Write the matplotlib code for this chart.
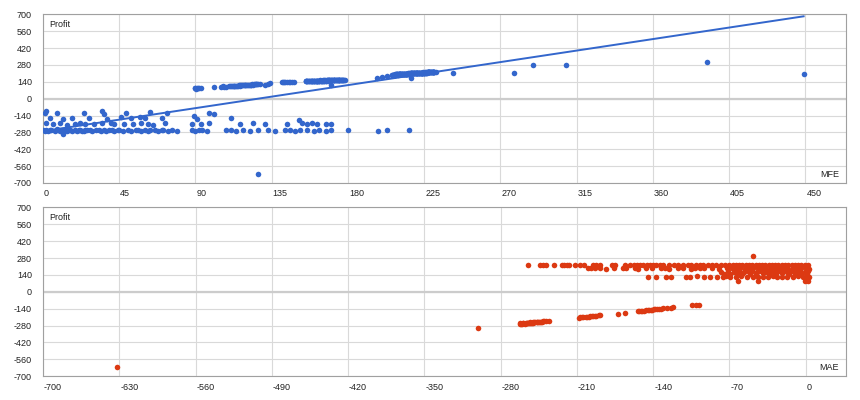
import numpy as np
import matplotlib
matplotlib.use("Agg")
import matplotlib.pyplot as plt
from matplotlib.transforms import ScaledTranslation

plt.rcParams['font.family'] = ['Liberation Sans', 'DejaVu Sans']

# ---------------- Top chart: MFE vs Profit ----------------
# losing trades
mfe_loss_low = [0,1,2,3,4,5,7,8,9,10,11,12,13,14,15,16,17,19,20,21,22,23,24,25,26,
                28,29,31,33,34,36,37,39,41,42,44,45,47,50,52,55,56,58,60,62,63,66,68,70,
                71,74,76,79,88,90,92,94,97,108,111,114,118,122,127,133,137,143,146,149,152,
                156,160,163,167,170,180,198,203,216]
profit_loss_low = [-262,-266,-258,-270,-264,-260,-268,-256,-263,-267,
                   -259,-265,-261,-272,-257,-264,-269,-260,-266,-262,
                   -258,-265,-270,-261,-263,-257,-268,-264,-260,-266,
                   -262,-271,-259,-264,-267,-258,-263,-269,-261,-265,
                   -257,-262,-268,-260,-266,-263,-259,-270,-264,-261,
                   -267,-258,-265,-262,-269,-260,-264,-266,-259,-263,
                   -268,-261,-265,-257,-262,-270,-264,-260,-266,-263,
                   -258,-267,-261,-265,-262,-264,-270,-263,-259]
mfe_loss_mid = [2,6,10,14,19,22,25,30,35,40,42,48,53,58,62,65,72,88,93,98,
                116,124,131,144,153,156,159,162,167,170]
profit_loss_mid = [-205,-212,-200,-215,-208,-203,-210,-214,-206,-198,
                   -211,-207,-213,-204,-209,-215,-202,-208,-212,-206,
                   -210,-203,-211,-210,-206,-211,-203,-209,-207,-212]
mfe_loss_up = [1,4,8,12,17,24,27,36,38,46,49,52,57,60,70,73,89,91,98,101,111,151]
profit_loss_up = [-122,-160,-118,-165,-158,-120,-162,-125,-168,-155,-119,
                  -163,-150,-160,-157,-121,-148,-165,-118,-125,-162,-178]
mfe_loss_out = [2,35,63,12,127]
profit_loss_out = [-105,-100,-108,-295,-627]

# winning trades
mfe_win_a = [89.5,90,90.5,91,91.5,92,93,101,105,106,107,108]
profit_win_a = [86,90,84,88,91,87,89,96,99,101,98,100]
mfe_win_b = [110,110.5,111,111.5,112,112.5,113,113.5,114,114.5,115,115.5,116,116.5,117,
             117.5,118,118.5,119,119.5,120,120.5,121,121.5,122,122.5,123,123.5,124,124.5,
             125,125.5,126,126.5,127,128]
profit_win_b = [102,104,103,106,105,107,106,108,107,109,108,110,109,111,110,
                112,111,113,112,114,113,115,114,116,115,117,116,118,117,119,
                118,120,119,121,120,122]
mfe_win_c = [131,133,134,141,141.5,142,143,144,145,146,147,148]
profit_win_c = [114,124,128,136,138,137,139,138,140,139,141,140]
mfe_win_e = [155,155.5,156,156.5,157,157.5,158,158.5,159,159.5,
             160,160.5,161,161.5,162,162.5,163,163.5,164,164.5,
             165,165.5,166,166.5,167,167.5,168,168.5,169,169.5,
             170,170.5,171,171.5,172,172.5,173,173.5,174,174.5,
             175,175.5,176,176.5,177,177.5,178,160,163,166,
             169,172,175,158,161,164,167,170,173,176,
             155.5,157,158.5,160,161.5,163,164.5,166,167.5,169,
             170.5,172,173.5,175,176.5,156,162,168,174,177]
profit_win_e = [144,146,145,147,146,148,147,145,148,147,
                149,148,147,149,150,148,149,151,150,149,
                151,150,152,151,150,152,151,153,152,151,
                153,152,151,153,152,154,153,152,154,153,
                152,154,153,155,154,153,155,146,148,150,
                151,152,153,145,147,149,150,151,152,154,
                145,146,147,148,148,149,150,150,151,152,
                152,153,153,154,154,144,147,150,152,153]
mfe_win_f = [170,197,200,203,217]
profit_win_f = [113,174,178,184,168]
mfe_win_g = [206,206.5,207,207.5,208,208.5,209,209.5,210,210.5,
             211,211.5,212,212.5,213,213.5,214,214.5,215,215.5,
             216,216.5,217,217.5,218,218.5,219,219.5,220,220.5,
             221,221.5,222,222.5,223,223.5,224,224.5,225,225.5,
             226,226.5,227,227.5,228,228.5,229,229.5,230,230.5,
             231,232,207,209,211,213,215,217,219,221,
             223,225,227,229,231,208,210,212,214,216,
             218,220,222,224,226,228,230,206,210,214,
             218,222,226,230,209,213,217,221,225,229,
             211,215,219,223,227,212,216,220,224,228,
             206.5,207.5,208.5,209.5,210.5,211.5,212.5,213.5,214.5,215.5,
             216.5,217.5,218.5,219.5,220.5,221.5,222.5,223.5,224.5,225.5,
             226.5,227.5,228.5,229.5,230.5,207,210,213,216,219,
             222,225,228,231,208,212,216,220,224,228]
profit_win_g = [198,200,199,201,200,202,201,199,203,202,
                203,205,204,206,205,207,206,208,207,209,
                208,210,209,211,210,212,211,213,212,214,
                213,215,214,216,215,217,216,218,217,219,
                218,220,219,221,220,222,221,223,222,224,
                222,221,197,201,203,205,207,210,211,213,
                214,216,219,220,221,200,203,204,206,208,
                211,212,214,215,217,219,221,196,201,205,
                209,212,216,222,202,206,208,212,217,221,
                204,208,212,215,218,205,209,213,216,220,
                199,200,201,202,203,203,205,205,206,207,
                208,209,210,211,211,213,213,215,215,216,
                217,218,219,220,221,198,202,205,208,211,
                213,216,219,222,200,204,208,212,215,219]
mfe_win_h = [242,278,289,309,392,449]
profit_win_h = [214,216,279,279,301,202]

# ---------------- Bottom chart: MAE vs Profit ----------------
mae_loss = [-632,-301,
            -262,-261,-260,-259,-258,-257,-256,-255,-254,-253,-252,-251,-250,-249,-248,
            -247,-246,-245,-244,-243,-242,-241,-240,-238,-236,
            -262,-259,-256,-253,-250,-247,
            -208,-207,-205,-204,-202,-201,-199,-198,-196,-195,-193,-192,-190,-189,
            -172,-166,
            -154,-153,-151,-150,-148,-147,-145,-144,-142,-141,-139,-138,-136,-135,-133,-131,
            -127,-124,-122,
            -104,-101,-98]
mae_loss_profit = [-627,-296,
                   -266,-264,-265,-262,-263,-261,-261,-259,-259,-257,-257,-255,-255,-253,-253,
                   -251,-251,-249,-249,-247,-247,-245,-245,-243,-241,
                   -261,-258,-256,-253,-251,-248,
                   -214,-212,-211,-209,-208,-206,-205,-203,-202,-200,-199,-197,-196,-194,
                   -180,-177,
                   -161,-160,-158,-157,-155,-154,-152,-151,-149,-148,-146,-145,-143,-142,-140,-138,
                   -134,-131,-129,
                   -110,-108,-106]
mae_win = [-255,-244,-241,-238,-231,-224,-222,-219,-217,-212,
           -207,-203,-195,-192,-189,-178,-175,-166,-161,-158,
           -155,-152,-149,-146,-143,-140,-137,-134,-131,-125,
           -121,-117,-113,-108,-105,-101,-97,-94,-90,-86,
           -82,-78,-74,-70,-67,-64,-61,-58,-55,-52,
           -49,-46,-43,-40,-37,-34,-31,-28,-25,-22,
           -19,-16,-13,-10,-7,-4,-1,2,
           -200,-197,-193,-189,-183,-176,-168,-165,-157,-154,
           -147,-141,-133,-129,-125,-117,-113,-105,-102,-97,
           -93,-86,-80,-72,-68,-64,-60,-56,-52,-48,
           -44,-40,-36,-32,-28,-24,-20,-16,-12,-8,
           -4,0,3,
           -78,-71,-66,-61,-57,-53,-49,-45,-41,-37,
           -33,-29,-25,-21,-17,-13,-9,-5,-1,2,
           -75,-69,-63,-58,-51,-46,-39,-34,-27,-22,-15,-10,-4,1,
           -145,-137,-128,-124,-110,-106,-100,-93,-88,-81,
           -76,-73,-69,-64,-59,-54,-48,-44,-39,-35,
           -30,-26,-22,-17,-12,-7,-2,1,3,
           -62,-44,-1,2,
           -48]
mae_win_profit = [222,221,220,222,219,221,223,220,222,221,
                  220,222,219,221,223,220,222,221,219,222,
                  220,223,221,219,222,220,221,223,220,222,
                  219,221,223,220,222,221,219,222,220,223,
                  221,219,222,220,224,221,223,220,222,219,
                  221,223,220,222,221,219,224,222,220,221,
                  223,220,222,219,221,223,220,222,
                  196,194,197,195,193,196,194,197,195,193,
                  196,194,197,195,193,196,194,192,196,194,
                  197,195,193,196,194,197,195,193,196,194,
                  197,195,193,196,194,197,195,193,196,194,
                  197,195,193,
                  168,171,166,170,167,172,169,166,171,168,
                  170,167,172,169,166,171,168,170,167,169,
                  150,146,152,148,151,147,153,149,146,152,148,151,147,150,
                  120,124,126,122,125,121,127,123,120,126,
                  122,128,124,121,127,123,125,120,126,122,
                  128,124,121,126,123,127,122,125,121,
                  88,92,86,90,
                  298]

y_ticks = [-700,-560,-420,-280,-140,0,140,280,420,560,700]
mfe_ticks = [0,45,90,135,180,225,270,315,360,405,450]
mae_ticks = [-700,-630,-560,-490,-420,-350,-280,-210,-140,-70,0]

BLUE = '#3366cc'
RED = '#dc3912'

fig = plt.figure(figsize=(8.6, 4.0), dpi=100)
ax1 = fig.add_axes([0.05, 0.5425, 0.9337, 0.42175])
ax2 = fig.add_axes([0.05, 0.05925, 0.9337, 0.4225])


def style(ax, xticks, xlim, xlabel):
    ax.set_xlim(*xlim)
    ax.set_ylim(-700, 700)
    ax.set_xticks(xticks)
    ax.set_yticks(y_ticks)
    ax.set_xticklabels([str(t) for t in xticks])
    ax.set_yticklabels([str(t) for t in y_ticks])
    ax.grid(True, color='#d9d9d9', linewidth=0.8)
    ax.set_axisbelow(True)
    ax.axhline(0, color='#cccccc', linewidth=1.6, zorder=1)
    for s in ax.spines.values():
        s.set_color('#a0a0a0')
        s.set_linewidth(0.8)
    ax.tick_params(axis='both', length=0, labelsize=6.5, labelcolor='#222222')
    ax.tick_params(axis='y', pad=8)
    ax.tick_params(axis='x', pad=4.5)
    off = ScaledTranslation(1/100, 0, fig.dpi_scale_trans)
    for lab in ax.get_xticklabels():
        lab.set_horizontalalignment('left')
        lab.set_transform(lab.get_transform() + off)
    ax.annotate('Profit', xy=(0, 1), xycoords='axes fraction', xytext=(4.3, -4),
                textcoords='offset points', ha='left', va='top', fontsize=6.5, color='#222222')
    ax.annotate(xlabel, xy=(1, 0), xycoords='axes fraction', xytext=(-5, 3),
                textcoords='offset points', ha='right', va='bottom', fontsize=6.5, color='#222222')


style(ax1, mfe_ticks, (0, 474), 'MFE')
style(ax2, mae_ticks, (-700, 37), 'MAE')

top_x = np.concatenate([mfe_loss_low, mfe_loss_mid, mfe_loss_up, mfe_loss_out,
                        mfe_win_a, mfe_win_b, mfe_win_c, mfe_win_e, mfe_win_f,
                        mfe_win_g, mfe_win_h]).astype(float)
top_y = np.concatenate([profit_loss_low, profit_loss_mid, profit_loss_up, profit_loss_out,
                        profit_win_a, profit_win_b, profit_win_c, profit_win_e, profit_win_f,
                        profit_win_g, profit_win_h]).astype(float)

ax1.scatter(top_x, top_y, s=16, color=BLUE, linewidths=0, zorder=3)
slope, intercept = np.polyfit(top_x, top_y, 1)
tx = np.array([top_x.min(), top_x.max()])
ax1.plot(tx, intercept + slope * tx, color=BLUE, linewidth=1.4, zorder=4)

bx = np.concatenate([mae_loss, mae_win]).astype(float)
by = np.concatenate([mae_loss_profit, mae_win_profit]).astype(float)
ax2.scatter(bx, by, s=16, color=RED, linewidths=0, zorder=3)

fig.savefig('out.png', dpi=100)
